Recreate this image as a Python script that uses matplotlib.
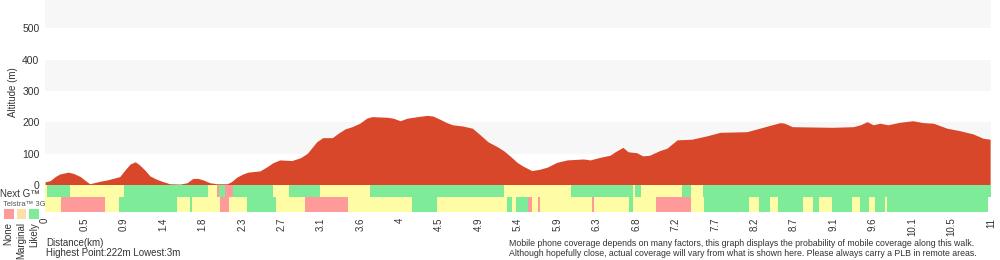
import matplotlib
matplotlib.use("Agg")
import matplotlib.pyplot as plt
from matplotlib.patches import Rectangle
import numpy as np

plt.rcParams['font.family'] = ['Liberation Sans', 'DejaVu Sans']

# ---- data ----
dist_km = [0.00, 0.06, 0.12, 0.17, 0.27, 0.33, 0.41, 0.47, 0.52, 0.58, 0.64, 0.72, 0.79, 0.87,
           0.93, 0.99, 1.05, 1.10, 1.16, 1.22, 1.30, 1.37, 1.45, 1.57, 1.65, 1.72, 1.78, 1.84,
           1.92, 2.00, 2.12, 2.17, 2.23, 2.30, 2.36, 2.50, 2.58, 2.65, 2.73, 2.87, 2.97, 3.05,
           3.16, 3.23, 3.34, 3.41, 3.49, 3.57, 3.66, 3.74, 3.80, 3.98, 4.05, 4.13, 4.21, 4.33,
           4.44, 4.51, 4.59, 4.67, 4.74, 4.86, 4.97, 5.06, 5.15, 5.26, 5.33, 5.41, 5.49, 5.56,
           5.66, 5.75, 5.84, 5.95, 6.07, 6.26, 6.34, 6.45, 6.57, 6.63, 6.72, 6.78, 6.88, 6.95,
           7.03, 7.15, 7.23, 7.35, 7.52, 7.70, 7.85, 8.16, 8.31, 8.40, 8.55, 8.60, 8.69, 9.16,
           9.40, 9.48, 9.56, 9.63, 9.71, 9.80, 9.94, 10.09, 10.21, 10.33, 10.49, 10.64, 10.79,
           10.91, 10.99]
altitude_m = [10, 14, 27, 35, 41, 37, 27, 14, 4, 8, 12, 16, 21, 27,
              48, 67, 74, 64, 48, 29, 18, 11, 4, 3, 7, 21, 21, 16,
              7, 4, 4, 11, 25, 35, 41, 45, 58, 71, 80, 78, 87, 101,
              138, 151, 151, 165, 179, 186, 197, 213, 218, 216, 213, 205, 213, 218,
              222, 220, 210, 199, 192, 188, 181, 160, 138, 122, 110, 92, 72, 60,
              46, 50, 57, 72, 80, 83, 80, 88, 95, 106, 120, 106, 103, 93,
              95, 110, 117, 144, 146, 157, 168, 170, 181, 188, 199, 197, 186, 184,
              186, 192, 202, 192, 197, 192, 200, 205, 199, 197, 181, 173, 163,
              149, 146]

# coverage levels: 0 = None, 1 = Marginal, 2 = Likely
nextg_edges = [0.00, 0.02, 0.29, 0.92, 1.89, 2.00, 2.02, 2.09, 2.19, 2.65, 2.84, 3.20, 3.78,
               5.34, 6.12, 6.84, 6.86, 6.93, 7.41, 7.51, 7.65, 11.00]
nextg_levels = [1, 2, 1, 2, 1, 0, 2, 0, 2, 1, 2, 1, 2, 1, 2, 1, 2, 1, 2, 1, 2]

telstra3g_edges = [0.00, 0.19, 0.70, 0.86, 1.53, 1.69, 1.71, 2.03, 2.14, 2.35, 2.69, 3.02, 3.52,
                   4.27, 4.56, 5.37, 5.43, 5.48, 5.62, 5.66, 5.73, 5.76, 6.36, 6.38, 6.79, 6.84,
                   7.10, 7.51, 7.66, 8.19, 8.30, 8.43, 8.52, 8.81, 8.93, 9.00, 9.15, 9.38, 9.48,
                   9.58, 9.65, 9.77, 9.79, 10.96]
telstra3g_levels = [1, 0, 1, 2, 1, 2, 1, 0, 1, 2, 1, 0, 1, 2, 1, 2, 1, 2, 0, 1, 0, 1, 0, 1, 2, 1,
                    0, 1, 2, 1, 2, 1, 2, 1, 2, 1, 2, 1, 2, 1, 2, 1, 2]

x_tick_labels = ['0', '0.5', '0.9', '1.4', '1.8', '2.3', '2.7', '3.1', '3.6', '4', '4.5', '4.9',
                 '5.4', '5.9', '6.3', '6.8', '7.2', '7.7', '8.2', '8.7', '9.1', '9.6', '10.1',
                 '10.5', '11']
y_ticks = [0, 100, 200, 300, 400, 500]
legend_labels = ['None', 'Marginal', 'Likely']

# ---- styling ----
W, H = 1000, 260
RED = '#d9472a'
LEVEL_COLORS = ['#ff9a9a', '#fffca6', '#7deb98']
LEGEND_COLORS = ['#ff9a9a', '#ffdfa8', '#7deb98']
TXT = '#333333'
X_MAX = 11.0

fig = plt.figure(figsize=(W / 100, H / 100), dpi=100)

def fbox(x0, y0, x1, y1):
    return [x0 / W, 1 - y1 / H, (x1 - x0) / W, (y1 - y0) / H]

# altitude axes
ax = fig.add_axes(fbox(45, 0, 991, 185))
for lo in (100, 300, 500):
    ax.axhspan(lo, lo + 100, color='#f7f7f7', lw=0, zorder=0)
ax.fill_between(dist_km, altitude_m, 0, color=RED, lw=0, zorder=2)
ax.set_xlim(0, X_MAX)
ax.set_ylim(0, 590)
ax.set_yticks(y_ticks)
ax.set_yticklabels([str(v) for v in y_ticks], fontsize=7.5, color=TXT)
ax.tick_params(axis='y', length=0, pad=4)
ax.set_xticks([])
for s in ax.spines.values():
    s.set_visible(False)
ax.set_ylabel('Altitude (m)', fontsize=7, color=TXT, labelpad=3)

# coverage axes
cax = fig.add_axes(fbox(45, 185, 991, 212))
cax.set_xlim(0, X_MAX)
cax.set_ylim(0, 27)
ng_left = nextg_edges[:-1]
ng_w = np.diff(nextg_edges)
cax.barh(21, ng_w, left=ng_left, height=12,
         color=[LEVEL_COLORS[l] for l in nextg_levels], lw=0)
t_left = telstra3g_edges[:-1]
t_w = np.diff(telstra3g_edges)
cax.barh(7.5, t_w, left=t_left, height=15,
         color=[LEVEL_COLORS[l] for l in telstra3g_levels], lw=0)
cax.set_yticks([])
cax.set_xticks(np.linspace(0, X_MAX, len(x_tick_labels)))
cax.set_xticklabels(x_tick_labels, rotation=90, fontsize=7, color=TXT, va='top', ha='center')
cax.tick_params(axis='x', length=0, pad=4)
for s in cax.spines.values():
    s.set_visible(False)

# left legend
fig.text(0 / W, 1 - 194 / H, 'Next G\u2122', fontsize=7, color=TXT, va='center', ha='left')
fig.text(3 / W, 1 - 204 / H, 'Telstra\u2122 3G', fontsize=5.5, color='#555555', va='center', ha='left')
for i, (lab, col) in enumerate(zip(legend_labels, LEGEND_COLORS)):
    x0 = 4 + i * 12.5
    fig.patches.append(Rectangle((x0 / W, 1 - 218.5 / H), 9.5 / W, 9.5 / H,
                                 transform=fig.transFigure, color=col, lw=0))
    fig.text((x0 + 4.75) / W, 1 - 222 / H, lab, rotation=90, fontsize=7, color=TXT,
             va='top', ha='center')

# bottom notes
fig.text(46 / W, 1 - 243 / H, 'Distance(km)', fontsize=7, color=TXT, va='center', ha='left')
fig.text(46 / W, 1 - 253 / H, 'Highest Point:222m Lowest:3m', fontsize=7, color=TXT,
         va='center', ha='left')
fig.text(509 / W, 1 - 243 / H,
         'Mobile phone coverage depends on many factors, this graph displays the probability of mobile coverage along this walk.',
         fontsize=6.3, color=TXT, va='center', ha='left')
fig.text(509 / W, 1 - 253 / H,
         'Although hopefully close, actual coverage will vary from what is shown here. Please always carry a PLB in remote areas.',
         fontsize=6.3, color=TXT, va='center', ha='left')

fig.savefig('out.png', dpi=100)
